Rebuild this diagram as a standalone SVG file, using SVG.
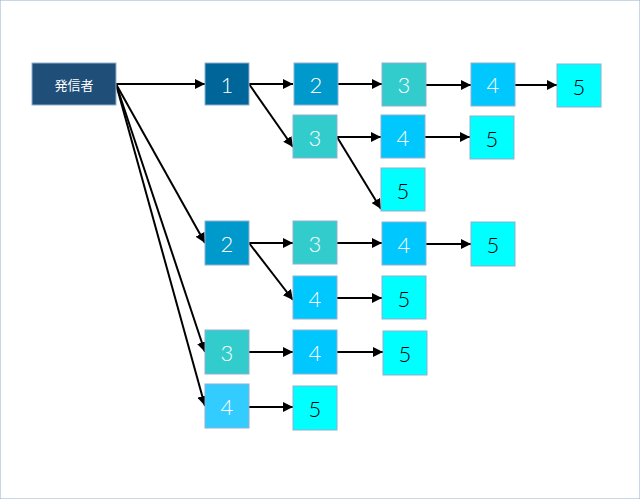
<svg xmlns="http://www.w3.org/2000/svg" width="640" height="499" viewBox="0 0 640 499">
<defs><marker id="a" viewBox="0 0 10 10" refX="10" refY="5" markerWidth="5" markerHeight="5" orient="auto"><path d="M0,0L10,5L0,10z" fill="#000"/></marker></defs>
<style>
rect{stroke:#8fb0d0;stroke-width:1}
text{font-family:"Lato","Open Sans",sans-serif;font-size:22px;font-weight:300;text-anchor:middle;dominant-baseline:central;fill:#fff}
.c1{fill:#006699}.c2{fill:#0099cc}.c3{fill:#33cccc}.c4{fill:#00c8ff}.c4b{fill:#33ccff}.c5{fill:#00ffff}
.c5+text{fill:#000}
#e line{stroke:#000;stroke-width:2;marker-end:url(#a)}
</style>
<rect width="640" height="499" fill="#fff" stroke="none"/>
<g id="e">
<line x1="116" y1="84" x2="205" y2="84"/>
<line x1="116" y1="84" x2="205" y2="243"/>
<line x1="116" y1="84" x2="205" y2="352"/>
<line x1="116" y1="84" x2="205" y2="406"/>
<line x1="249" y1="84" x2="293" y2="84"/>
<line x1="249" y1="84" x2="293" y2="147"/>
<line x1="338" y1="84" x2="382" y2="84"/>
<line x1="426" y1="85" x2="471" y2="85"/>
<line x1="515" y1="85" x2="557" y2="85"/>
<line x1="337" y1="137" x2="381" y2="137"/>
<line x1="337" y1="137" x2="381" y2="209"/>
<line x1="425" y1="137" x2="470" y2="137"/>
<line x1="249" y1="243" x2="293" y2="243"/>
<line x1="249" y1="243" x2="293" y2="300"/>
<line x1="337" y1="243" x2="382" y2="243"/>
<line x1="426" y1="244" x2="471" y2="244"/>
<line x1="337" y1="298" x2="382" y2="298"/>
<line x1="249" y1="352" x2="293" y2="352"/>
<line x1="337" y1="352" x2="383" y2="352"/>
<line x1="249" y1="407" x2="293" y2="407"/>
</g>
<g id="sender"><rect x="32" y="63" width="84" height="42" fill="#1f4e79"/><text x="74" y="84" style="font-family:'Noto Sans CJK JP',sans-serif;font-size:13px;font-weight:400">発信者</text></g>
<g id="n1"><rect class="c1" x="205" y="63" width="44" height="42"/><text x="227" y="84">1</text></g>
<g id="n2a"><rect class="c2" x="294" y="63" width="44" height="42"/><text x="316" y="84">2</text></g>
<g id="n3a"><rect class="c3" x="382" y="63" width="44" height="43"/><text x="404" y="84">3</text></g>
<g id="n4a"><rect class="c4" x="471" y="63" width="44" height="43"/><text x="493" y="84">4</text></g>
<g id="n5a"><rect class="c5" x="557" y="64" width="44" height="43"/><text x="579" y="86">5</text></g>
<g id="n3b"><rect class="c3" x="293" y="115" width="44" height="43"/><text x="315" y="137">3</text></g>
<g id="n4b"><rect class="c4" x="381" y="115" width="44" height="43"/><text x="403" y="137">4</text></g>
<g id="n5b"><rect class="c5" x="470" y="116" width="44" height="43"/><text x="492" y="138">5</text></g>
<g id="n5c"><rect class="c5" x="381" y="168" width="44" height="43"/><text x="403" y="190">5</text></g>
<g id="n2"><rect class="c2" x="205" y="221" width="44" height="44"/><text x="227" y="243">2</text></g>
<g id="n3c"><rect class="c3" x="293" y="221" width="44" height="43"/><text x="315" y="243">3</text></g>
<g id="n4c"><rect class="c4" x="382" y="222" width="44" height="43"/><text x="404" y="244">4</text></g>
<g id="n5d"><rect class="c5" x="471" y="222" width="44" height="44"/><text x="493" y="244">5</text></g>
<g id="n4d"><rect class="c4" x="293" y="276" width="44" height="43"/><text x="315" y="298">4</text></g>
<g id="n5e"><rect class="c5" x="382" y="276" width="44" height="43"/><text x="404" y="298">5</text></g>
<g id="n3"><rect class="c3" x="205" y="330" width="44" height="44"/><text x="227" y="352">3</text></g>
<g id="n4e"><rect class="c4" x="293" y="330" width="44" height="44"/><text x="315" y="352">4</text></g>
<g id="n5f"><rect class="c5" x="383" y="331" width="44" height="44"/><text x="405" y="353">5</text></g>
<g id="n4"><rect class="c4b" x="205" y="384" width="44" height="44"/><text x="227" y="406">4</text></g>
<g id="n5g"><rect class="c5" x="293" y="386" width="44" height="44"/><text x="315" y="408">5</text></g>
</svg>
